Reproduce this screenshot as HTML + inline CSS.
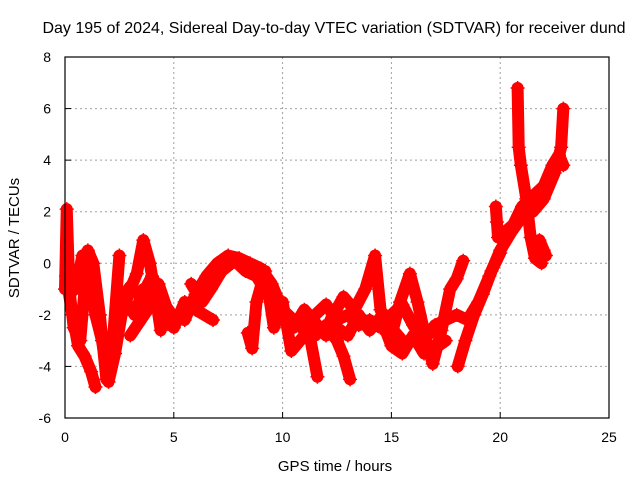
<!DOCTYPE html>
<html><head><meta charset="utf-8"><style>
body{margin:0;background:#fff}
svg{display:block;font-family:"Liberation Sans",sans-serif}
</style></head><body>
<svg id="chart" width="640" height="480" viewBox="0 0 640 480">
<rect width="640" height="480" fill="#fff"/>
<text x="334" y="33" font-size="16" text-anchor="middle">Day 195 of 2024, Sidereal Day-to-day VTEC variation (SDTVAR) for receiver dund</text>
<g id="grid"></g>
<g id="ticks"></g>
<g id="series"></g>
<rect x="65" y="57" width="544" height="361" fill="none" stroke="#000" stroke-width="1.2"/>
<text x="335" y="471" font-size="15" text-anchor="middle">GPS time / hours</text>
<text x="19" y="238" font-size="15" text-anchor="middle" transform="rotate(-90 19 238)">SDTVAR / TECUs</text>
</svg>
<script>
const xTicks=[0,5,10,15,20,25];
const yTicks=[-6,-4,-2,0,2,4,6,8];
const trackA=[[0,-1],[0.08,2.1],[0.2,-1],[0.4,-2.5],[0.7,-3],[0.9,-1],[1.05,0.5],[1.3,0],[1.6,-2],[1.9,-4.5],[2.2,-3],[2.5,0.3]];
const trackB=[[0.05,-0.5],[0.3,-1.8],[0.6,-3.2],[0.9,-3.6],[1.2,-4.2],[1.4,-4.8]];
const trackC=[[0.5,-1],[0.8,0.3],[1.1,-0.5],[1.4,-2],[1.7,-3],[2.0,-4.6],[2.3,-3.5],[2.6,-2],[3.0,-1],[3.3,-0.4],[3.6,0.9],[3.9,0],[4.2,-1.5],[4.4,-2.6]];
const trackD=[[2.5,-1.5],[3.0,-0.9],[3.5,-1.3],[4.0,-0.5],[4.5,-1.5],[5.0,-2.1],[5.5,-2.2],[6.0,-1.2],[6.5,-0.5],[7.0,0],[7.5,0.3],[8.0,0.2],[8.5,0],[9.0,-0.2],[9.5,-0.8],[10.0,-1.8],[10.5,-2.2],[11.0,-2.6],[11.5,-2],[12.0,-1.6],[12.5,-2.2],[13.0,-2.0],[13.5,-2.4],[14.0,-2.2],[14.5,-2.5],[15.0,-2.0],[15.5,-1.6],[16.0,-2.4],[16.5,-3],[17.0,-2.4],[17.5,-2.2],[18.0,-2.0],[18.5,-2.2],[19.0,-1.5],[19.5,-0.5],[20.0,0.5],[20.5,1.2],[21.0,1.8],[21.5,2.0],[22.0,2.5],[22.5,3.5],[22.8,4.5],[22.9,6]];
const trackE=[[4.6,-2.2],[5.0,-2.5],[5.5,-1.5],[6.0,-1.8],[6.8,-2.2]];
const trackF=[[8.4,-2.7],[8.6,-3.3],[8.8,-1.5],[9.2,-0.3],[9.6,-2.5],[10.0,-1.5],[10.4,-3.4],[10.8,-3.0],[11.2,-2.6],[11.6,-4.4]];
const trackG=[[11.5,-2.8],[12.0,-2.4],[12.5,-3],[12.8,-3.6],[13.1,-4.5]];
const trackH=[[12.2,-2.2],[12.8,-1.3],[13.3,-1.8],[13.8,-1],[14.25,0.3],[14.5,-1.8],[15.0,-2.8],[15.4,-1.5],[15.85,-0.4],[16.2,-1.5],[16.6,-3],[16.9,-3.9],[17.3,-2.6],[17.7,-1],[18.0,-0.6],[18.3,0.1]];
const trackI=[[14.6,-2.3],[15.0,-3.2],[15.5,-3.5],[16.0,-2.8],[16.5,-3.5],[17.0,-3.3],[17.5,-3.0]];
const trackJ=[[18.05,-4],[18.4,-3],[18.8,-2],[19.2,-1.2],[19.6,-0.3],[20.0,0.4]];
const trackK=[[20.8,6.8],[20.85,4.5],[20.95,3.8],[21.2,2.5],[21.4,1],[21.6,0.2],[21.9,0]];
const trackL=[[19.8,2.2],[19.85,1.6],[19.9,1.0]];
const trackM=[[21.8,0.9],[22.0,0.5],[22.1,0.3]];
const trackN=[[2.4,-2.5],[2.8,-1.5],[3.2,-2],[3.6,-1],[4.0,-1.2],[4.3,-0.8],[4.7,-1.8]];
const trackO=[[3.0,-2.8],[3.4,-2.3],[3.8,-1.8],[4.2,-1.0]];
const trackP=[[5.8,-0.8],[6.3,-1.5],[6.7,-1.0],[7.2,-0.3],[7.8,0.1],[8.3,-0.3],[8.8,-0.5],[9.3,-1.2]];
const trackQ=[[10.5,-2.5],[11.0,-1.8],[11.5,-2.3],[12.0,-2.8],[12.5,-2.5],[13.0,-2.8],[13.5,-2.0],[14.0,-2.6],[14.5,-2.1],[15.0,-2.5],[15.5,-3.0]];
const trackR=[[20.2,1.2],[20.6,1.5],[21.0,2.2],[21.5,2.6],[22.0,3.0],[22.4,3.8],[22.7,4.2],[22.9,3.8]];
const tracks=[trackA,trackB,trackC,trackD,trackE,trackF,trackG,trackH,trackI,trackJ,trackK,trackL,trackM,trackN,trackO,trackP,trackQ,trackR];
const NS='http://www.w3.org/2000/svg';
function xs(t){return 65+t*544/25;}
function ys(v){return 418-(v+6)*361/14;}
const grid=document.getElementById('grid'),ticks=document.getElementById('ticks'),series=document.getElementById('series');
function mk(tag,attrs,parent){const e=document.createElementNS(NS,tag);for(const k in attrs)e.setAttribute(k,attrs[k]);parent.appendChild(e);return e;}
xTicks.forEach(t=>{const x=xs(t);
 if(t>0&&t<25){const g=mk('line',{x1:x,x2:x,y1:57,y2:418,stroke:'#a0a0a0','stroke-dasharray':'2,3'},grid);
 
 }
 const tk=mk('line',{x1:x,x2:x,y1:418,y2:412,stroke:'#000'},ticks);
 
 
 const lb=mk('text',{x:x,y:442,'font-size':14,'text-anchor':'middle'},ticks);lb.textContent=t;
 
 });
yTicks.forEach(v=>{const y=ys(v);
 if(v>-6&&v<8){const g=mk('line',{x1:65,x2:609,y1:y,y2:y,stroke:'#a0a0a0','stroke-dasharray':'2,3'},grid);
 
 }
 const tk=mk('line',{x1:65,x2:71,y1:y,y2:y,stroke:'#000'},ticks);
 
 
 const lb=mk('text',{x:51,y:y+5,'font-size':14,'text-anchor':'end'},ticks);lb.textContent=v;
 
 });
tracks.forEach(tr=>{
 const pts=tr.map(p=>xs(p[0])+','+ys(p[1])).join(' ');
 const pl=mk('polyline',{points:pts,fill:'none',stroke:'#ff0000','stroke-width':12,'stroke-linejoin':'round','stroke-linecap':'round'},series);
 
 
 tr.forEach(p=>{const x=xs(p[0]),y=ys(p[1]);
  const m=mk('path',{d:`M${x-7},${y}H${x+7}M${x},${y-7}V${y+7}`,stroke:'#ff0000','stroke-width':1.5},series);
  
  });
});
</script>
</body></html>
